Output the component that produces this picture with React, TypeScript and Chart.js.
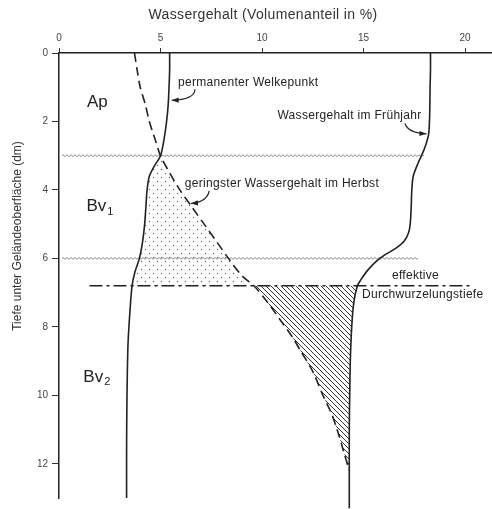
import React, { useEffect, useRef } from "react";
import { Chart, registerables } from "chart.js";

Chart.register(...registerables);

// ---------- data ----------
const xTicks = [0, 5, 10, 15, 20];
const yTicks = [0, 2, 4, 6, 8, 10, 12];
const xTitle = "Wassergehalt (Volumenanteil in %)";
const yTitle = "Tiefe unter Geländeoberfläche (dm)";

// permanenter Welkepunkt (depth dm -> water %)
const welkeDepth = [0, 0.5, 1.0, 1.5, 2.0, 2.5, 3.0, 3.3, 3.6, 4.0, 4.5, 5.0, 5.5, 6.0, 6.4, 6.8, 7.5, 8.5, 10, 11.5, 13.0];
const welkeWater = [5.45, 5.45, 5.42, 5.38, 5.3, 5.18, 5.0, 4.7, 4.45, 4.34, 4.28, 4.22, 4.12, 3.96, 3.74, 3.6, 3.5, 3.4, 3.35, 3.33, 3.33];

// geringster Wassergehalt im Herbst
const herbstDepth = [0, 0.5, 1.0, 1.5, 2.0, 2.5, 3.0, 3.5, 4.0, 4.5, 5.0, 5.5, 6.0, 6.5, 6.8, 7.3, 7.8, 8.3, 8.7, 9.3, 10.0, 10.5, 11.0, 11.6, 12.2];
const herbstWater = [3.72, 3.85, 4.0, 4.25, 4.45, 4.72, 5.0, 5.45, 5.95, 6.55, 7.15, 7.75, 8.35, 9.0, 9.6, 10.3, 10.9, 11.5, 11.9, 12.5, 13.0, 13.4, 13.7, 14.0, 14.3];

// Wassergehalt im Frühjahr
const fruehDepth = [0, 0.5, 1.0, 1.5, 2.0, 2.4, 2.8, 3.2, 3.6, 4.0, 4.5, 5.0, 5.25, 5.5, 5.7, 5.9, 6.1, 6.35, 6.6, 6.8, 7.3, 8.0, 9.0, 10.0, 11.0, 12.2, 13.3];
const fruehWater = [18.3, 18.3, 18.28, 18.27, 18.25, 18.2, 18.0, 17.7, 17.45, 17.38, 17.35, 17.3, 17.22, 17.0, 16.6, 16.05, 15.6, 15.2, 14.9, 14.7, 14.52, 14.42, 14.35, 14.32, 14.3, 14.3, 14.3];

const stippleRange = [3.0, 6.8];
const hatchRange = [6.8, 12.2];

const rootingDepth = 6.8;
const rootingFrom = 1.5;
const rootingTo = 20.4;

const horizonDepths = [3.0, 6.0];
const horizonStart = [0.15, 0.15];
const horizonEnd = [18.0, 17.7];

const horizonNames = ["Ap", "Bv", "Bv"];
const horizonSubs = ["", "1", "2"];
const horizonLabelX = [1.38, 1.35, 1.2];
const horizonLabelDepth = [1.43, 4.49, 9.46];

const labelTexts = ["permanenter Welkepunkt", "Wassergehalt im Frühjahr", "geringster Wassergehalt im Herbst", "effektive", "Durchwurzelungstiefe"];
const labelX = [5.86, 17.86, 6.2, 16.4, 14.93];
const labelDepth = [0.88, 1.84, 3.83, 6.51, 7.07];
const labelAlign = ["left", "right", "left", "left", "left"];

// arrows: start -> control -> end (water %, depth dm)
const arrowFrom = [[6.7, 1.06], [17.04, 2.06], [7.4, 4.03]];
const arrowCtrl = [[6.67, 1.37], [17.2, 2.34], [7.3, 4.35]];
const arrowTo = [[5.55, 1.38], [18.1, 2.36], [6.5, 4.4]];

// ---------- helpers ----------
const FONT = "'Liberation Sans', Arial, sans-serif";
const INK = "#222";

function toPts(depths: number[], vals: number[]) {
  return depths.map((d, i) => ({ x: vals[i], y: d }));
}
function slicePts(depths: number[], vals: number[], lo: number, hi: number) {
  return toPts(depths, vals).filter((p) => p.y >= lo - 1e-9 && p.y <= hi + 1e-9);
}

function makeStipple(): CanvasPattern | string {
  const c = document.createElement("canvas");
  c.width = 8;
  c.height = 8;
  const g = c.getContext("2d");
  if (!g) return "#eee";
  g.fillStyle = "#666";
  g.beginPath();
  g.arc(1.5, 1.5, 0.7, 0, Math.PI * 2);
  g.arc(5.5, 5.5, 0.7, 0, Math.PI * 2);
  g.fill();
  return g.createPattern(c, "repeat") || "#eee";
}
function makeHatch(): CanvasPattern | string {
  const c = document.createElement("canvas");
  c.width = 5;
  c.height = 5;
  const g = c.getContext("2d");
  if (!g) return "#ccc";
  g.strokeStyle = "#333";
  g.lineWidth = 1;
  for (let k = -1; k <= 1; k++) {
    g.beginPath();
    g.moveTo(k * 5, 0);
    g.lineTo(k * 5 + 5, 5);
    g.stroke();
  }
  return g.createPattern(c, "repeat") || "#ccc";
}

export default function App() {
  const ref = useRef<HTMLCanvasElement | null>(null);

  useEffect(() => {
    const canvas = ref.current;
    if (!canvas) return;
    const stipple = makeStipple();
    const hatch = makeHatch();

    const decor = {
      id: "decor",
      beforeDatasetsDraw(chart: any) {
        const { ctx } = chart;
        const xs = chart.scales.x;
        const ys = chart.scales.y;
        const poly = (pts: { x: number; y: number }[], style: any) => {
          ctx.save();
          ctx.beginPath();
          pts.forEach((p, i) => {
            const px = xs.getPixelForValue(p.x);
            const py = ys.getPixelForValue(p.y);
            if (i === 0) ctx.moveTo(px, py);
            else ctx.lineTo(px, py);
          });
          ctx.closePath();
          ctx.fillStyle = style;
          ctx.fill();
          ctx.restore();
        };
        const st = slicePts(welkeDepth, welkeWater, stippleRange[0], stippleRange[1]).concat(
          slicePts(herbstDepth, herbstWater, stippleRange[0], stippleRange[1]).reverse()
        );
        poly(st, stipple);
        const ht = slicePts(herbstDepth, herbstWater, hatchRange[0], hatchRange[1]).concat(
          slicePts(fruehDepth, fruehWater, hatchRange[0], hatchRange[1]).reverse()
        );
        poly(ht, hatch);

        // horizon boundaries (wavy)
        ctx.save();
        ctx.strokeStyle = "#888";
        ctx.lineWidth = 1;
        horizonDepths.forEach((d, i) => {
          const y0 = ys.getPixelForValue(d);
          const x0 = xs.getPixelForValue(horizonStart[i]);
          const x1 = xs.getPixelForValue(horizonEnd[i]);
          ctx.beginPath();
          for (let px = x0; px <= x1; px += 1) {
            const py = y0 + 0.9 * Math.sin((px * 2 * Math.PI) / 4);
            if (px === x0) ctx.moveTo(px, py);
            else ctx.lineTo(px, py);
          }
          ctx.stroke();
        });
        ctx.restore();
      },
      afterDatasetsDraw(chart: any) {
        const { ctx } = chart;
        const xs = chart.scales.x;
        const ys = chart.scales.y;
        ctx.save();
        ctx.fillStyle = INK;
        ctx.textBaseline = "middle";
        // horizon labels
        horizonNames.forEach((n, i) => {
          const px = xs.getPixelForValue(horizonLabelX[i]);
          const py = ys.getPixelForValue(horizonLabelDepth[i]);
          ctx.font = `17px ${FONT}`;
          ctx.textAlign = "left";
          (ctx as any).letterSpacing = "0px";
          ctx.fillText(n, px, py);
          const w = ctx.measureText(n).width;
          if (horizonSubs[i]) {
            ctx.font = `11px ${FONT}`;
            ctx.fillText(horizonSubs[i], px + w + 1, py + 5);
          }
        });
        // annotation labels
        ctx.font = `12px ${FONT}`;
        (ctx as any).letterSpacing = "0.3px";
        labelTexts.forEach((t, i) => {
          ctx.textAlign = labelAlign[i] as CanvasTextAlign;
          ctx.fillText(t, xs.getPixelForValue(labelX[i]), ys.getPixelForValue(labelDepth[i]));
        });
        (ctx as any).letterSpacing = "0px";
        // arrows
        ctx.strokeStyle = INK;
        ctx.lineWidth = 1.2;
        arrowFrom.forEach((f, i) => {
          const ax = xs.getPixelForValue(f[0]);
          const ay = ys.getPixelForValue(f[1]);
          const cx = xs.getPixelForValue(arrowCtrl[i][0]);
          const cy = ys.getPixelForValue(arrowCtrl[i][1]);
          const bx = xs.getPixelForValue(arrowTo[i][0]);
          const by = ys.getPixelForValue(arrowTo[i][1]);
          ctx.beginPath();
          ctx.moveTo(ax, ay);
          ctx.quadraticCurveTo(cx, cy, bx, by);
          ctx.stroke();
          const ang = Math.atan2(by - cy, bx - cx);
          const L = 7;
          const W = 2.6;
          ctx.beginPath();
          ctx.moveTo(bx, by);
          ctx.lineTo(bx - L * Math.cos(ang) + W * Math.sin(ang), by - L * Math.sin(ang) - W * Math.cos(ang));
          ctx.lineTo(bx - L * Math.cos(ang) - W * Math.sin(ang), by - L * Math.sin(ang) + W * Math.cos(ang));
          ctx.closePath();
          ctx.fill();
        });
        ctx.restore();
      },
      afterDraw(chart: any) {
        const { ctx } = chart;
        ctx.save();
        ctx.fillStyle = "#333";
        ctx.textBaseline = "middle";
        ctx.textAlign = "center";
        ctx.font = `14px ${FONT}`;
        (ctx as any).letterSpacing = "0.35px";
        ctx.fillText(xTitle, 263, 15);
        ctx.font = `12px ${FONT}`;
        (ctx as any).letterSpacing = "0px";
        ctx.translate(18, 236);
        ctx.rotate(-Math.PI / 2);
        ctx.fillText(yTitle, 0, 0);
        ctx.restore();
      },
    };

    const lineDs = (label: string, data: any[], dash: number[], width: number) => ({
      label,
      data,
      showLine: true,
      borderColor: INK,
      backgroundColor: INK,
      borderWidth: width,
      borderDash: dash,
      pointRadius: 0,
      pointHoverRadius: 0,
      tension: 0.3,
      fill: false,
      clip: false as any,
    });

    const chart = new Chart(canvas, {
      type: "scatter",
      data: {
        datasets: [
          lineDs("permanenter Welkepunkt", toPts(welkeDepth, welkeWater), [], 1.6),
          lineDs("geringster Wassergehalt im Herbst", toPts(herbstDepth, herbstWater), [9, 5], 1.6),
          lineDs("Wassergehalt im Frühjahr", toPts(fruehDepth, fruehWater), [], 1.6),
          {
            ...lineDs("effektive Durchwurzelungstiefe", [
              { x: rootingFrom, y: rootingDepth },
              { x: rootingTo, y: rootingDepth },
            ], [13, 4, 3, 4], 1.5),
            tension: 0,
          },
        ],
      },
      options: {
        responsive: false,
        maintainAspectRatio: false,
        animation: false,
        events: [],
        layout: { padding: { left: 0, right: 0, top: 0, bottom: 11 } },
        plugins: {
          legend: { display: false },
          tooltip: { enabled: false },
          title: { display: false },
        },
        scales: {
          x: {
            type: "linear",
            position: "top",
            min: 0,
            max: 21.33,
            afterBuildTicks: (s: any) => {
              s.ticks = xTicks.map((v) => ({ value: v }));
            },
            afterFit: (s: any) => {
              s.height = 53;
            },
            ticks: {
              color: "#444",
              font: { size: 10, family: FONT },
              padding: 4,
              maxRotation: 0,
              callback: (v: any) => String(v),
            },
            grid: { drawOnChartArea: false, drawTicks: true, tickLength: 5, color: "#333", lineWidth: 1 },
            border: { display: true, color: INK, width: 1.5 },
            title: { display: false },
          },
          y: {
            type: "linear",
            reverse: true,
            min: 0,
            max: 13,
            afterBuildTicks: (s: any) => {
              s.ticks = yTicks.map((v) => ({ value: v }));
            },
            afterFit: (s: any) => {
              s.width = 59;
            },
            ticks: {
              color: "#444",
              font: { size: 10, family: FONT },
              padding: 4,
              callback: (v: any) => String(v),
            },
            grid: { drawOnChartArea: false, drawTicks: true, tickLength: 7, color: "#333", lineWidth: 1 },
            border: { display: true, color: INK, width: 1.5 },
            title: { display: false },
          },
        },
      },
      plugins: [decor],
    } as any);

    return () => chart.destroy();
  }, []);

  return (
    <div style={{ position: "absolute", left: 0, top: 0, width: 492, height: 509, background: "#fff" }}>
      <canvas ref={ref} width={492} height={509} style={{ display: "block" }} />
    </div>
  );
}
